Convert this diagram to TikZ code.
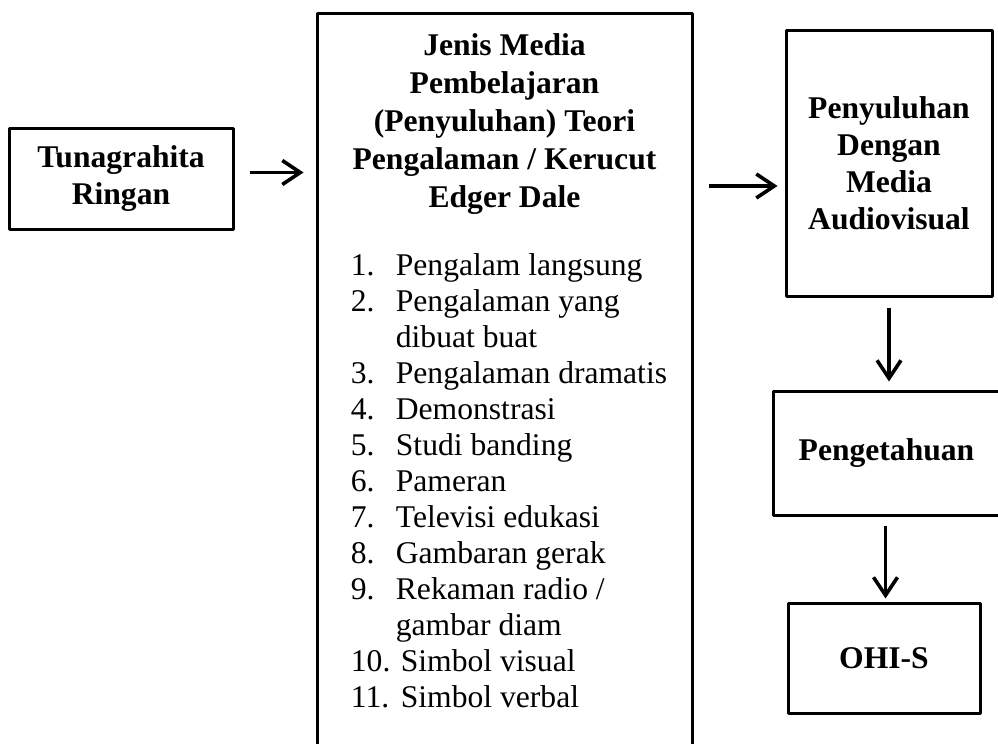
\documentclass[tikz,border=0pt]{standalone}
\usepackage{fontspec}
\setmainfont{Liberation Serif}
\usetikzlibrary{arrows.meta,positioning}
\tikzset{
  kotak/.style={draw,line width=1.5pt,inner sep=0pt,align=center,
    font=\fontsize{15.8pt}{18.5pt}\selectfont\bfseries},
  panah/.style={-{Straight Barb[length=9pt,width=12pt,line width=1.8pt]},line width=1.9pt}
}
\begin{document}
\begin{tikzpicture}[x=0.5pt,y=-0.5pt,line join=round]
\clip (0,0) rectangle (998,744);
\node[kotak,minimum width=112pt,minimum height=50.5pt] (tuna) at (121,178.5) {Tunagrahita\\Ringan};
\node[kotak,minimum width=187.5pt,minimum height=373.5pt] (media) at (504.5,386.5) {};
\node[inner sep=0pt,align=center,font=\fontsize{15.8pt}{19pt}\selectfont\bfseries,below=11pt of media.north] (judul)
  {Jenis Media\\Pembelajaran\\(Penyuluhan) Teori\\Pengalaman / Kerucut\\Edger Dale};
\node[inner sep=0pt,anchor=north west,font=\fontsize{15.8pt}{18pt}\selectfont] (daftar) at ([xshift=17.5pt,yshift=-119pt]media.north west)
  {\begin{tabular}{@{}p{22.5pt}@{}l@{}}
   1. & Pengalam langsung\\
   2. & Pengalaman yang\\
      & dibuat buat\\
   3. & Pengalaman dramatis\\
   4. & Demonstrasi\\
   5. & Studi banding\\
   6. & Pameran\\
   7. & Televisi edukasi\\
   8. & Gambaran gerak\\
   9. & Rekaman radio /\\
      & gambar diam\\
   10. & \hspace{2.5pt}Simbol visual\\
   11. & \hspace{2.5pt}Simbol verbal
  \end{tabular}};
\node[kotak,minimum width=103pt,minimum height=133pt] (audio) at (889,163) {Penyuluhan\\Dengan\\Media\\Audiovisual};
\node[kotak,minimum width=113.5pt,minimum height=62pt] (tahu) at (886.5,453) {Pengetahuan};
\node[kotak,minimum width=96pt,minimum height=55pt] (ohis) at (884,658) {OHI-S};
% panah
\draw[panah,shorten <=7.5pt,shorten >=6pt] ([yshift=3pt]tuna.east) -- ([yshift=3pt]tuna.east -| media.west);
\draw[panah,shorten <=7.5pt,shorten >=3.5pt] ([yshift=-11.5pt]audio.west -| media.east) -- ([yshift=-11.5pt]audio.west);
\draw[panah,shorten <=5pt,shorten >=4pt] (audio.south) -- (audio.south |- tahu.north);
\draw[panah,shorten <=4.5pt,shorten >=1.5pt] ([xshift=0.75pt]ohis.north |- tahu.south) -- ([xshift=0.75pt]ohis.north);
\end{tikzpicture}
\end{document}
